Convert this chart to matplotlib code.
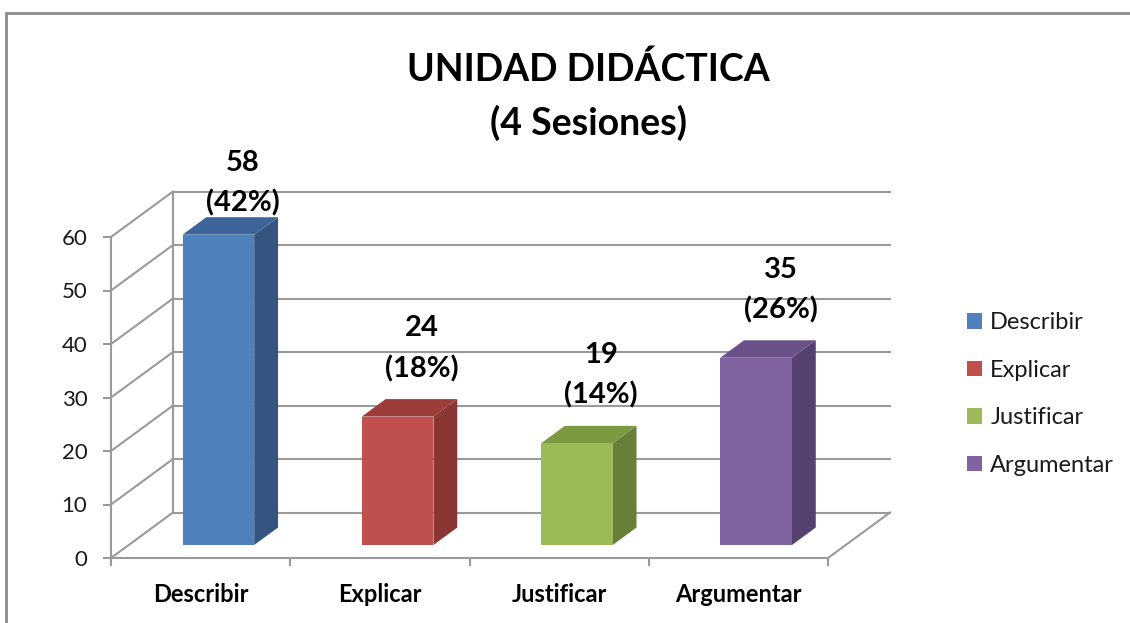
import matplotlib.pyplot as plt
from matplotlib.patches import Polygon, Patch, Rectangle

# datos
categorias = ['Describir', 'Explicar', 'Justificar', 'Argumentar']
valores = [58, 24, 19, 35]
porcentajes = ['(42%)', '(18%)', '(14%)', '(26%)']
colores = ['#4F81BD', '#C0504D', '#9BBB59', '#8064A2']
colores_lado = ['#34557F', '#8A3634', '#687F39', '#554170']
colores_tope = ['#3D659A', '#9C3D3A', '#7B9A40', '#6A5189']

plt.rcParams['font.family'] = ['Lato', 'DejaVu Sans']

W, H = 1130, 623
fig = plt.figure(figsize=(W / 100, H / 100), dpi=100)
ax = fig.add_axes([0, 0, 1, 1])

# escala: 1 categoria = 179.25 px, 1 unidad = 5.35 px, origen en (111, 558)
px_cat, px_val = 179.25, 5.35
ax.set_xlim(-111 / px_cat, (W - 111) / px_cat)
ax.set_ylim(-(H - 558) / px_val, 558 / px_val)

# profundidad 3D
DX, DY = 62 / px_cat, 45.5 / px_val
d0, d1 = 0.286, 0.67
gris = '#9A9A9A'

# paredes y piso
for v in range(0, 70, 10):
    ax.plot([0, DX], [v, v + DY], color=gris, lw=1.5, zorder=1)
    ax.plot([DX, 4 + DX], [v + DY, v + DY], color=gris, lw=1.5, zorder=1)
ax.plot([DX, DX], [DY, 60 + DY], color=gris, lw=1.5, zorder=1)
ax.plot([4, 4 + DX], [0, DY], color=gris, lw=1.5, zorder=1)

# barras 3D
for i, v in enumerate(valores):
    x0, x1 = i + 0.3, i + 0.7
    fx0, fx1, fy = x0 + d0 * DX, x1 + d0 * DX, d0 * DY
    bx0, bx1, by = x0 + d1 * DX, x1 + d1 * DX, d1 * DY
    frente = [(fx0, fy), (fx1, fy), (fx1, v + fy), (fx0, v + fy)]
    lado = [(fx1, fy), (bx1, by), (bx1, v + by), (fx1, v + fy)]
    tope = [(fx0, v + fy), (fx1, v + fy), (bx1, v + by), (bx0, v + by)]
    ax.add_patch(Polygon(lado, closed=True, fc=colores_lado[i], ec='none', zorder=3))
    ax.add_patch(Polygon(tope, closed=True, fc=colores_tope[i], ec='none', zorder=3))
    ax.add_patch(Polygon(frente, closed=True, fc=colores[i], ec='none', zorder=4))

    # etiquetas de datos
    y_lab = min(v + 9, 64) + fy
    xl = i + 0.5 + 0.235
    ax.text(xl, y_lab, porcentajes[i], ha='center', va='center',
            fontsize=21, fontweight='bold', color='black', zorder=5)
    ax.text(xl, y_lab + 40 / px_val, str(v), ha='center', va='center',
            fontsize=21, fontweight='bold', color='black', zorder=5)

# ejes
for s in ['top', 'right']:
    ax.spines[s].set_visible(False)
ax.spines['left'].set_position(('data', 0))
ax.spines['left'].set_bounds(0, 60)
ax.spines['bottom'].set_position(('data', 0))
ax.spines['bottom'].set_bounds(0, 4)
for s in ['left', 'bottom']:
    ax.spines[s].set_color(gris)
    ax.spines[s].set_linewidth(1.5)
ax.patch.set_visible(False)

ax.set_yticks(range(0, 70, 10))
ax.tick_params(axis='y', direction='out', length=6, width=1.5, color=gris,
               pad=11, labelsize=16, labelcolor='#1a1a1a')
ax.set_xticks(range(0, 5))
ax.set_xticklabels([])
ax.set_xticks([i + 0.5 for i in range(4)], minor=True)
ax.set_xticklabels(categorias, minor=True, fontsize=17, fontweight='bold')
ax.tick_params(axis='x', which='major', direction='out', length=6, width=1.5, color=gris)
ax.tick_params(axis='x', which='minor', length=0, pad=18, labelcolor='black')

# titulo
fig.text(588 / W, 1 - 69 / H, 'UNIDAD DIDÁCTICA', ha='center', va='center',
         fontsize=27, fontweight='bold')
fig.text(588 / W, 1 - 123 / H, '(4 Sesiones)', ha='center', va='center',
         fontsize=27, fontweight='bold')

# leyenda
handles = [Patch(facecolor=c, edgecolor='none') for c in colores]
fig.legend(handles, categorias, loc='center left',
           bbox_to_anchor=(967 / W, 1 - 394 / H), bbox_transform=fig.transFigure,
           frameon=False, fontsize=17, handlelength=0.64, handleheight=0.64,
           handletextpad=0.35, labelspacing=1.12, borderpad=0, borderaxespad=0,
           labelcolor='#1a1a1a')

# borde del grafico
fig.patches.append(Rectangle((6 / W, -0.1), 1.2, 1 - 13 / H + 0.1, transform=fig.transFigure,
                             fill=False, ec='#8A8A8A', lw=2, zorder=0))

fig.savefig('out.png', dpi=100)
